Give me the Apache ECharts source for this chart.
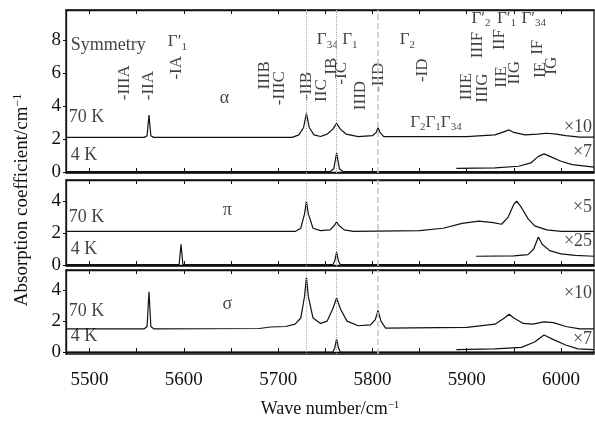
<!DOCTYPE html>
<html>
<head>
<meta charset="utf-8">
<script src="https://cdn.jsdelivr.net/npm/echarts@6/dist/echarts.min.js"></script>
<style>
html, body { margin: 0; padding: 0; background: #fff; }
#chart { width: 595px; height: 423px; }
</style>
</head>
<body>
<div id="chart"></div>
<script>
// wave number ticks
const xTicks = [5500, 5550, 5600, 5650, 5700, 5750, 5800, 5850, 5900, 5950, 6000];
const xLabels = [5500, 5600, 5700, 5800, 5900, 6000];
const yTicksAlpha = [0, 2, 4, 6, 8];
const yTicksPi = [0, 2, 4];
const yTicksSigma = [0, 2, 4];

// alpha spectra [wave number, absorption]
const alpha70K = [[5475,2.1],[5558,2.1],[5561,2.2],[5563,3.45],[5565,2.2],[5568,2.1],[5715,2.1],[5722,2.25],[5727,2.7],[5730,3.55],[5733,2.7],[5738,2.25],[5745,2.15],[5752,2.3],[5758,2.6],[5762,2.95],[5766,2.6],[5772,2.3],[5785,2.15],[5800,2.2],[5804,2.4],[5806,2.7],[5808,2.4],[5812,2.15],[5900,2.15],[5930,2.25],[5940,2.45],[5945,2.55],[5950,2.4],[5962,2.25],[5975,2.3],[5985,2.35],[5995,2.3],[6005,2.2],[6020,2.12],[6035,2.12]];
const alpha4K = [[5475,0.02],[5755,0.02],[5759,0.2],[5762,1.15],[5765,0.2],[5769,0.02],[6035,0.02]];
const alpha4Kx7 = [[5889,0.22],[5930,0.25],[5955,0.35],[5968,0.55],[5976,0.95],[5982,1.1],[5990,0.9],[6000,0.65],[6012,0.45],[6035,0.3]];

// pi spectra
const pi70K = [[5475,2.1],[5718,2.1],[5724,2.3],[5728,3.2],[5730,4.0],[5732,3.2],[5737,2.3],[5745,2.15],[5755,2.2],[5760,2.5],[5762,2.7],[5764,2.5],[5770,2.2],[5780,2.1],[5850,2.15],[5875,2.3],[5895,2.6],[5913,2.75],[5928,2.65],[5937,2.55],[5944,3.0],[5950,3.8],[5953,4.0],[5958,3.6],[5965,2.9],[5972,2.45],[5985,2.2],[6000,2.1],[6035,2.1]];
const pi4K = [[5475,0.02],[5595,0.02],[5597,1.3],[5599,0.02],[5758,0.02],[5760,0.25],[5762,0.8],[5764,0.25],[5766,0.02],[6035,0.02]];
const pi4Kx25 = [[5910,0.55],[5950,0.57],[5965,0.65],[5971,1.0],[5976,1.75],[5980,1.3],[5988,0.9],[6000,0.7],[6015,0.6],[6035,0.55]];

// sigma spectra
const sigma70K = [[5475,1.5],[5558,1.5],[5561,1.65],[5563,3.9],[5565,1.65],[5568,1.5],[5680,1.52],[5692,1.62],[5708,1.65],[5718,1.8],[5724,2.2],[5728,3.6],[5730,4.85],[5732,3.6],[5737,2.2],[5745,1.85],[5752,2.0],[5758,2.8],[5762,3.5],[5766,2.8],[5773,2.0],[5785,1.7],[5798,1.75],[5803,2.1],[5806,2.7],[5809,2.0],[5814,1.55],[5900,1.6],[5930,1.8],[5940,2.2],[5945,2.45],[5950,2.2],[5960,1.85],[5970,1.8],[5982,1.95],[5992,1.9],[6005,1.65],[6020,1.5],[6035,1.5]];
const sigma4K = [[5475,0.0],[5758,0.0],[5760,0.25],[5762,0.85],[5764,0.25],[5766,0.0],[6035,0.0]];
const sigma4Kx7 = [[5889,0.15],[5930,0.2],[5958,0.3],[5972,0.65],[5982,1.1],[5992,0.8],[6005,0.45],[6018,0.2],[6035,0.15]];

// guide lines (wave numbers)
const guideDotted = [5730, 5762];
const guideDashed = [5806];

// transition labels, rotated [text, wave number, bottom value]
const transLabels = [
  ['-IIIA',5537,4.35],['-IIA',5563,4.35],['-IA',5592,5.6],['IIIB',5686,5.0],['-IIIC',5702,4.05],
  ['-IIB',5730,4.35],['IIC',5746,4.25],['IB',5757,5.9],['-IC',5767,5.3],['IIID',5787,3.75],
  ['-IID',5806,4.85],['-ID',5853,5.45],['IIIE',5900,4.35],['IIIF',5912,6.9],['IIIG',5917,4.2],
  ['IIF',5935,7.4],['IIE',5937,5.1],['IIG',5951,5.3],['IF',5975,7.1],['IE',5978,5.7],['IG',5990,5.9]
];
// symmetry labels [prime, subscript, wave number, value]
const gammaLabels = [
  ['\u2032','1',5583,7.9],['','34',5741,8.0],['','1',5768,8.0],['','2',5829,8.0],
  ['\u2032','2',5905,9.3],['\u2032','1',5932,9.3],['\u2032','34',5958,9.3]
];
const gammaRow = ['{g|Γ}{s|2}{g|Γ}{s|1}{g|Γ}{s|34}', 5840, 3.0];

// plain text labels [text, wave number, value, align]
const alphaText = [['Symmetry',5480,7.7,'left'],['70 K',5478,3.3,'left'],['4 K',5480,1.0,'left'],['α',5643,4.5,'center'],['×10',6033,2.7,'right'],['×7',6033,1.2,'right']];
const piText = [['70 K',5478,3.0,'left'],['4 K',5480,1.0,'left'],['π',5646,3.4,'center'],['×5',6033,3.6,'right'],['×25',6033,1.5,'right']];
const sigmaText = [['70 K',5478,2.65,'left'],['4 K',5480,1.05,'left'],['σ',5646,3.1,'center'],['×10',6033,3.8,'right'],['×7',6033,0.85,'right']];

const F = 'Liberation Serif';
const INK = '#111';

const grids = [
  { left: 66, top: 10, width: 528, height: 163 },
  { left: 66, top: 180, width: 528, height: 86 },
  { left: 66, top: 270, width: 528, height: 84 }
];
const yRanges = [[-0.06, 9.82], [-0.06, 5.315], [-0.13, 5.31]];
const yTicks = [yTicksAlpha, yTicksPi, yTicksSigma];

const xAxes = [];
const yAxes = [];
grids.forEach((g, gi) => {
  ['bottom', 'top'].forEach(pos => {
    const a = {
      type: 'value', gridIndex: gi, position: pos, min: 5475, max: 6035,
      axisLine: { show: true, lineStyle: { color: INK, width: 1.3 } },
      axisTick: { show: true, inside: true, length: 4, customValues: xTicks, lineStyle: { color: INK } },
      axisLabel: { show: pos === 'bottom' && gi === 2, customValues: xLabels, formatter: v => String(v),
        fontFamily: F, fontSize: 19, color: INK, margin: 17 },
      splitLine: { show: false }
    };
    if (pos === 'bottom' && gi === 2) {
      a.name = 'Wave number/cm{sup|−1}';
      a.nameLocation = 'middle';
      a.nameGap = 46;
      a.nameTextStyle = { fontFamily: F, fontSize: 18, color: INK,
        rich: { sup: { fontFamily: F, fontSize: 11, color: INK, padding: [0, 0, 8, 0] } } };
    }
    xAxes.push(a);
  });
  yAxes.push({
    type: 'value', gridIndex: gi, min: yRanges[gi][0], max: yRanges[gi][1],
    axisLine: { show: true, lineStyle: { color: INK, width: 1.3 } },
    axisTick: { show: true, inside: false, length: 3, customValues: yTicks[gi], lineStyle: { color: INK } },
    axisLabel: { customValues: yTicks[gi], formatter: v => String(v), fontFamily: F, fontSize: 19, color: INK, margin: 5 },
    splitLine: { show: false }
  });
});

function spectrum(data, gi, guides) {
  const s = {
    type: 'line', xAxisIndex: gi * 2, yAxisIndex: gi, data: data,
    symbol: 'none', silent: true, animation: false,
    lineStyle: { color: INK, width: 1.2 }
  };
  if (guides) {
    const lines = [];
    guideDotted.forEach(v => lines.push({ xAxis: v, lineStyle: { color: '#aaa', width: 1, type: 'dotted' } }));
    guideDashed.forEach(v => lines.push({ xAxis: v, lineStyle: { color: '#c4c4c4', width: 1.5, type: 'dashed' } }));
    s.markLine = { silent: true, symbol: 'none', label: { show: false }, animation: false, data: lines };
  }
  return s;
}

function textSeries(gi, items, labelExtra) {
  return {
    type: 'scatter', xAxisIndex: gi * 2, yAxisIndex: gi, symbolSize: 0, silent: true, animation: false,
    data: items.map(d => ({ value: [d[1], d[2]], label: { formatter: d[0], align: d[3] || 'left' } })),
    label: Object.assign({ show: true, position: 'inside', color: INK, fontFamily: F, fontSize: 18, verticalAlign: 'middle' }, labelExtra || {})
  };
}

const gammaRich = {
  g: { fontFamily: F, fontSize: 17, color: INK },
  s: { fontFamily: F, fontSize: 11, color: INK, padding: [10, 0, 0, 0] }
};

const series = [
  spectrum(alpha70K, 0, true), spectrum(alpha4K, 0), spectrum(alpha4Kx7, 0),
  spectrum(pi70K, 1, true), spectrum(pi4K, 1), spectrum(pi4Kx25, 1),
  spectrum(sigma70K, 2, true), spectrum(sigma4K, 2), spectrum(sigma4Kx7, 2),
  textSeries(0, alphaText),
  textSeries(1, piText),
  textSeries(2, sigmaText),
  textSeries(0, transLabels, { rotate: 90, fontSize: 17 }),
  textSeries(0, gammaLabels.map(d => ['{g|Γ' + d[0] + '}{s|' + d[1] + '}', d[2], d[3], 'left']), { rich: gammaRich }),
  textSeries(0, [gammaRow], { rich: gammaRich })
];

const chart = echarts.init(document.getElementById('chart'), null, { renderer: 'canvas' });
chart.setOption({
  animation: false,
  grid: grids.map(g => Object.assign({ show: true, borderColor: INK, borderWidth: 1.3 }, g)),
  xAxis: xAxes,
  yAxis: yAxes,
  series: series,
  graphic: [{
    type: 'text', x: 22, y: 200, rotation: Math.PI / 2,
    style: {
      text: 'Absorption coefficient/cm{sup|−1}', fontFamily: F, fontSize: 19, fill: INK,
      align: 'center', verticalAlign: 'middle',
      rich: { sup: { fontFamily: F, fontSize: 12, fill: INK, padding: [0, 0, 8, 0] } }
    }
  }]
});
</script>
</body>
</html>
